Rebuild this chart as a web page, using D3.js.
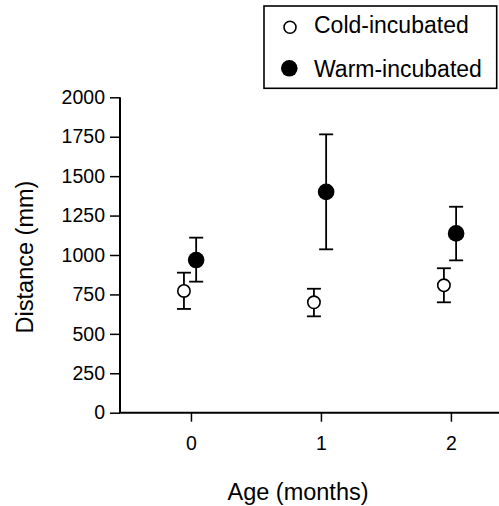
<!DOCTYPE html>
<html>
<head>
<meta charset="utf-8">
<script src="https://cdn.jsdelivr.net/npm/d3@7"></script>
<style>
  body { margin: 0; background: #fff; }
  svg { display: block; }
  text { font-family: "Liberation Sans", Arial, Helvetica, sans-serif; fill: #000; }
</style>
</head>
<body>
<svg id="chart" width="499" height="506"></svg>
<script>
// Data
const ages = [0, 1, 2];
const coldMean = [772, 700, 808];
const coldLow = [658, 611, 700];
const coldHigh = [888, 786, 916];
const warmMean = [968, 1400, 1137];
const warmLow = [831, 1036, 966];
const warmHigh = [1110, 1765, 1306];
const yTicks = [0, 250, 500, 750, 1000, 1250, 1500, 1750, 2000];
const xTicks = [0, 1, 2];
const seriesNames = ["Cold-incubated", "Warm-incubated"];

const svg = d3.select("#chart");

const x = d3.scaleLinear().domain([-0.546, 2.37]).range([120, 499]);
const y = d3.scaleLinear().domain([0, 2000]).range([412.7, 97.3]);

// Y axis
const yAxis = d3.axisLeft(y).tickValues(yTicks).tickSize(10).tickPadding(5).tickFormat(d3.format("d"));
const gy = svg.append("g").attr("transform", "translate(120,0)").call(yAxis);
gy.select(".domain").attr("stroke", "#000").attr("stroke-width", 2).attr("d", `M0,${y(0)}V${y(2000)}`);
gy.selectAll(".tick line").attr("stroke", "#000").attr("stroke-width", 1.5);
gy.selectAll(".tick text").attr("font-size", 19.5).attr("font-family", "Liberation Sans, Arial, sans-serif").attr("fill", "#000");

// X axis
const xAxis = d3.axisBottom(x).tickValues(xTicks).tickSize(9).tickPadding(14).tickFormat(d3.format("d"));
const gx = svg.append("g").attr("transform", `translate(0,${y(0)})`).call(xAxis);
gx.select(".domain").attr("stroke", "#000").attr("stroke-width", 2).attr("d", `M119,0H499`);
gx.selectAll(".tick line").attr("stroke", "#000").attr("stroke-width", 1.5);
gx.selectAll(".tick text").attr("font-size", 19.5).attr("font-family", "Liberation Sans, Arial, sans-serif").attr("fill", "#000");

// Axis titles
svg.append("text").attr("x", 298).attr("y", 500).attr("text-anchor", "middle")
  .attr("font-size", 23.5).text("Age (months)");
svg.append("text").attr("transform", "translate(33,257) rotate(-90)").attr("text-anchor", "middle")
  .attr("font-size", 23.5).text("Distance (mm)");

// Series
const series = [
  { off: -0.054, mean: coldMean, low: coldLow, high: coldHigh, fill: "#fff", r: 6.2 },
  { off: 0.04, mean: warmMean, low: warmLow, high: warmHigh, fill: "#000", r: 8.3 }
];
const cap = 7;
series.forEach(s => {
  const g = svg.append("g");
  ages.forEach((a, i) => {
    const cx = x(a + s.off);
    g.append("line").attr("x1", cx).attr("x2", cx).attr("y1", y(s.low[i])).attr("y2", y(s.high[i]))
      .attr("stroke", "#000").attr("stroke-width", 1.8);
    [s.low[i], s.high[i]].forEach(v => {
      g.append("line").attr("x1", cx - cap).attr("x2", cx + cap).attr("y1", y(v)).attr("y2", y(v))
        .attr("stroke", "#000").attr("stroke-width", 1.8);
    });
    g.append("circle").attr("cx", cx).attr("cy", y(s.mean[i])).attr("r", s.r)
      .attr("fill", s.fill).attr("stroke", "#000").attr("stroke-width", s.fill === "#fff" ? 1.6 : 0);
  });
});

// Legend
const lg = svg.append("g");
lg.append("rect").attr("x", 264).attr("y", 6).attr("width", 232.7).attr("height", 82.3)
  .attr("fill", "#fff").attr("stroke", "#000").attr("stroke-width", 1.6);
lg.append("circle").attr("cx", 290).attr("cy", 27.3).attr("r", 6).attr("fill", "#fff").attr("stroke", "#000").attr("stroke-width", 1.6);
lg.append("circle").attr("cx", 289.3).attr("cy", 68.3).attr("r", 8.3).attr("fill", "#000");
lg.append("text").attr("x", 314).attr("y", 33.3).attr("font-size", 23).text(seriesNames[0]);
lg.append("text").attr("x", 314).attr("y", 77).attr("font-size", 23).text(seriesNames[1]);
</script>
</body>
</html>
